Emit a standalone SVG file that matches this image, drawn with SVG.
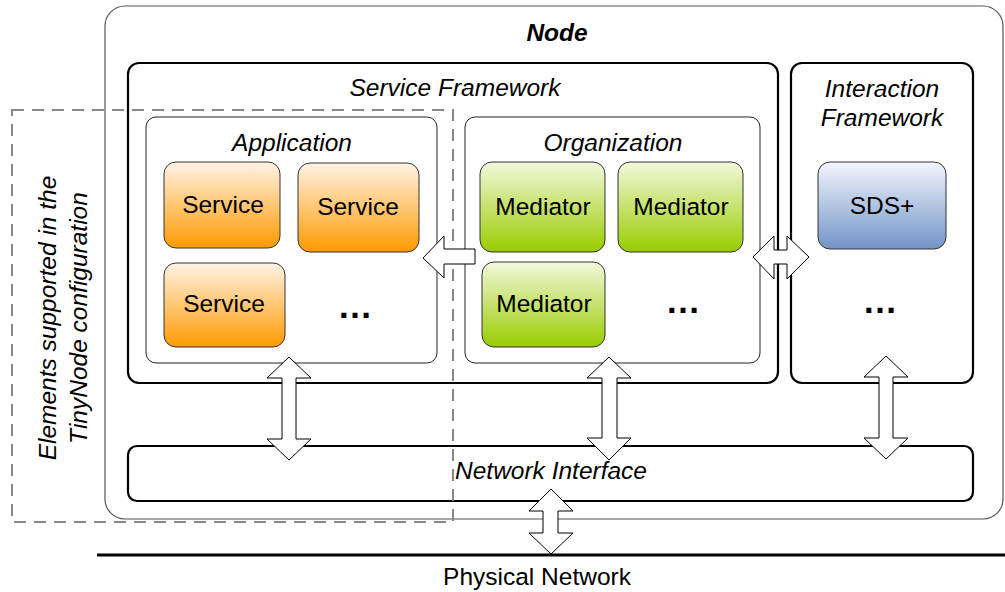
<svg xmlns="http://www.w3.org/2000/svg" width="1005" height="592" viewBox="0 0 1005 592">
<defs>
<linearGradient id="gOr" x1="0" y1="0" x2="0" y2="1"><stop offset="0" stop-color="#fff3e6"/><stop offset="1" stop-color="#ff9a00"/></linearGradient>
<linearGradient id="gGr" x1="0" y1="0" x2="0" y2="1"><stop offset="0" stop-color="#f2f8dc"/><stop offset="1" stop-color="#99cc00"/></linearGradient>
<linearGradient id="gBl" x1="0" y1="0" x2="0" y2="1"><stop offset="0" stop-color="#f2f5fb"/><stop offset="1" stop-color="#7394c8"/></linearGradient>
</defs>
<style>
text{font-family:"Liberation Sans",Arial,sans-serif;fill:#000;}
.it{font-style:italic;font-size:24.5px;}
.lbl{font-size:24.5px;}
.dots{font-size:35px;font-weight:bold;}
.outer{fill:#fff;stroke:#555;stroke-width:1.2;}
.frame{fill:#fff;stroke:#000;stroke-width:2.2;}
.sub{fill:#fff;stroke:#222;stroke-width:1;}
.box{stroke:#333;stroke-width:1;}
.arr{fill:#fff;stroke:#000;stroke-width:1;stroke-linejoin:miter;}
</style>
<rect width="1005" height="592" fill="#fff"/>
<g id="node-outer">
<rect class="outer" x="105" y="6" width="898" height="513" rx="20"/>
<text x="557" y="41" text-anchor="middle" style="font-weight:bold;font-style:italic;font-size:24.5px">Node</text>
</g>
<g id="service-framework">
<rect class="frame" x="128" y="63" width="650" height="320" rx="11"/>
<text class="it" x="455" y="96" text-anchor="middle">Service Framework</text>
</g>
<g id="interaction-framework">
<rect class="frame" x="791" y="63" width="182" height="320" rx="11"/>
<text class="it" x="882" y="97" text-anchor="middle">Interaction</text>
<text class="it" x="882" y="126" text-anchor="middle">Framework</text>
</g>
<g id="application">
<rect class="sub" x="146" y="117" width="291" height="246" rx="10"/>
<text class="it" x="292" y="151" text-anchor="middle">Application</text>
</g>
<g id="organization">
<rect class="sub" x="465" y="117" width="295" height="246" rx="10"/>
<text class="it" x="613" y="151" text-anchor="middle">Organization</text>
</g>
<g id="service1">
<rect class="box" x="164" y="162" width="116" height="86" rx="12" fill="url(#gOr)"/>
<text class="lbl" x="223" y="213" text-anchor="middle">Service</text>
</g>
<g id="service2">
<rect class="box" x="298" y="163" width="121" height="89" rx="12" fill="url(#gOr)"/>
<text class="lbl" x="358" y="215" text-anchor="middle">Service</text>
</g>
<g id="service3">
<rect class="box" x="164" y="263" width="121" height="84" rx="12" fill="url(#gOr)"/>
<text class="lbl" x="224" y="312" text-anchor="middle">Service</text>
</g>
<g id="app-more"><text class="dots" x="355" y="318" text-anchor="middle">…</text></g>
<g id="mediator1">
<rect class="box" x="480" y="162" width="125" height="90" rx="12" fill="url(#gGr)"/>
<text class="lbl" x="543" y="215" text-anchor="middle">Mediator</text>
</g>
<g id="mediator2">
<rect class="box" x="618" y="162" width="125" height="90" rx="12" fill="url(#gGr)"/>
<text class="lbl" x="681" y="215" text-anchor="middle">Mediator</text>
</g>
<g id="mediator3">
<rect class="box" x="482" y="262" width="123" height="85" rx="12" fill="url(#gGr)"/>
<text class="lbl" x="544" y="312" text-anchor="middle">Mediator</text>
</g>
<g id="org-more"><text class="dots" x="683" y="313" text-anchor="middle">…</text></g>
<g id="sds">
<rect class="box" x="818" y="162" width="128" height="87" rx="12" fill="url(#gBl)"/>
<text class="lbl" x="882" y="214" text-anchor="middle">SDS+</text>
</g>
<g id="int-more"><text class="dots" x="880" y="313" text-anchor="middle">…</text></g>
<g id="network-interface">
<rect class="frame" x="128" y="446" width="845" height="55" rx="9"/>
<text class="it" x="551" y="479" text-anchor="middle">Network Interface</text>
</g>
<g id="physical-network">
<line x1="97" y1="555" x2="1005" y2="555" stroke="#000" stroke-width="3"/>
<text x="537" y="585" text-anchor="middle" style="font-size:24.5px">Physical Network</text>
</g>
<g id="tinynode-config">
<rect x="12" y="110" width="441" height="412" fill="none" stroke="#888" stroke-width="2" stroke-dasharray="12,8"/>
<text class="it" transform="translate(56,318) rotate(-90)" text-anchor="middle">Elements supported in the</text>
<text class="it" transform="translate(87,318) rotate(-90)" text-anchor="middle">TinyNode configuration</text>
</g>
<g id="connectors">
<path class="arr" d="M423,258 L444,236 L444,249 L475,249 L475,264 L444,264 L444,278 Z"/>
<path class="arr" d="M753,257 L774,236 L774,250 L787,250 L787,236 L809,257 L787,279 L787,264 L774,264 L774,279 Z"/>
<path class="arr" d="M289,357 L311,378 L296,378 L296,439 L311,439 L289,460 L267,439 L282,439 L282,378 L267,378 Z"/>
<path class="arr" d="M609,357 L631,378 L617,378 L617,438 L631,438 L609,460 L587,438 L602,438 L602,378 L587,378 Z"/>
<path class="arr" d="M886,356 L908,377 L893,377 L893,438 L908,438 L886,459 L864,438 L879,438 L879,377 L864,377 Z"/>
<path class="arr" d="M551,489 L573,511 L558,511 L558,533 L573,533 L551,554 L529,533 L543,533 L543,511 L529,511 Z"/>
</g>
</svg>
